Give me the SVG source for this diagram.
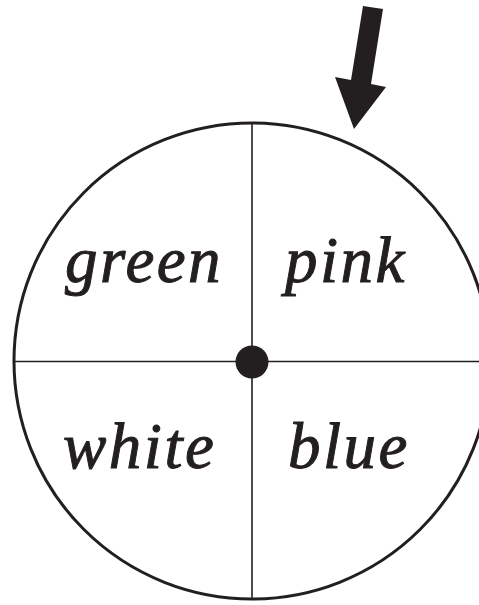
<svg xmlns="http://www.w3.org/2000/svg" width="479" height="605" viewBox="0 0 479 605">
<style>
.lbl{font-family:"Liberation Serif","Times New Roman",serif;font-style:italic;font-size:65px;letter-spacing:2.5px;fill:#231f20;stroke:#231f20;stroke-width:1;paint-order:stroke}
.ln{stroke:#231f20;stroke-width:1.6;fill:none}
</style>
<rect width="479" height="605" fill="#fff"/>
<g id="spinner">
<circle cx="252" cy="361" r="238" fill="none" stroke="#231f20" stroke-width="3"/>
</g>
<g id="connectors">
<line class="ln" x1="14" y1="361.5" x2="479" y2="361.5"/>
<line class="ln" x1="252" y1="123" x2="252" y2="599"/>
</g>
<g id="center"><circle cx="252" cy="362" r="16.5" fill="#231f20"/></g>
<g id="arrow"><polygon points="363,6 383,9 371,84 386,87 354,129 335,77 351,80" fill="#231f20"/></g>
<g id="green"><text class="lbl" x="65" y="282">green</text></g>
<g id="pink"><text class="lbl" x="285" y="282">pink</text></g>
<g id="white"><text class="lbl" x="63" y="468">white</text></g>
<g id="blue"><text class="lbl" x="288" y="468">blue</text></g>
</svg>
